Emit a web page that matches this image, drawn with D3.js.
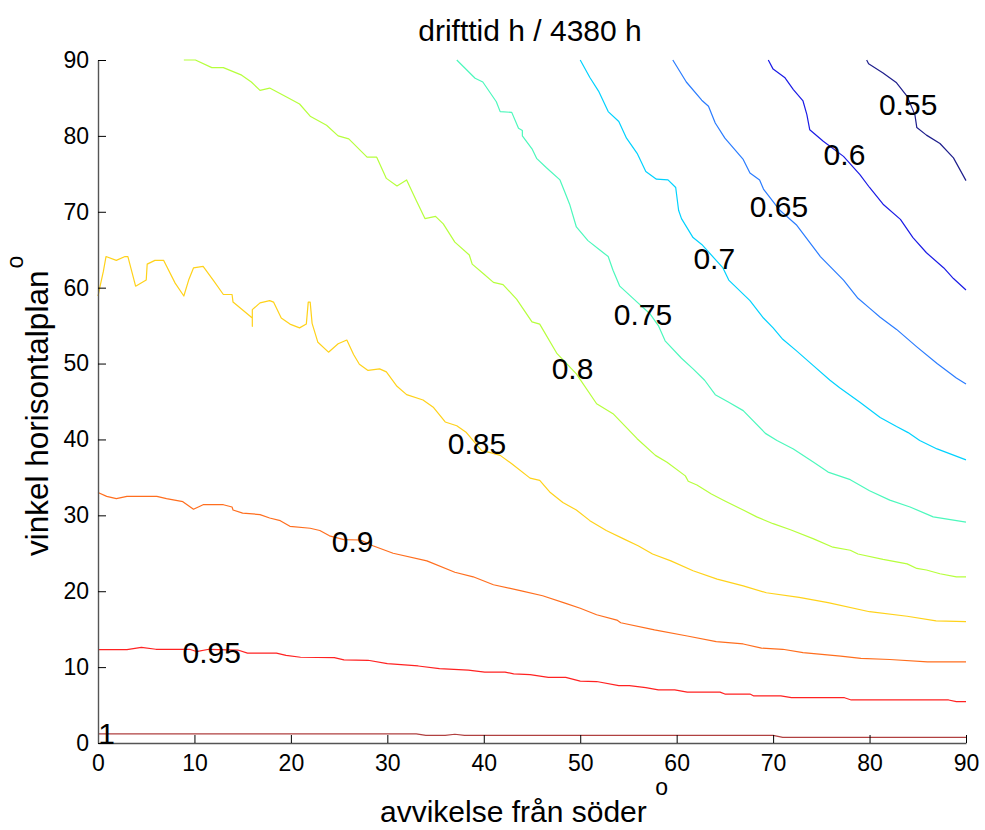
<!DOCTYPE html>
<html>
<head>
<meta charset="utf-8">
<script src="https://cdn.jsdelivr.net/npm/d3@7"></script>
<style>
  body { margin: 0; background: #fff; }
  svg { display: block; font-family: "Liberation Sans", Arial, Helvetica, sans-serif; }
</style>
</head>
<body>
<svg id="chart" width="985" height="830"></svg>
<script>
// ---- data (x = avvikelse från söder [deg], y = vinkel horisontalplan [deg]) ----
const levels = [0.55, 0.6, 0.65, 0.7, 0.75, 0.8, 0.85, 0.9, 0.95, 1.0];
const levelLabels = ["0.55", "0.6", "0.65", "0.7", "0.75", "0.8", "0.85", "0.9", "0.95", "1"];
const levelColors = ["#1e1e8c", "#1a1ae6", "#2a7cff", "#00d2ff", "#4cf8bc", "#b6ff3c", "#ffd21a", "#ff6e1e", "#ff2222", "#b04040"];

const line055 = [[79.7,90],[79.9,89.5],[81.4,88.3],[82.8,87],[83.9,85.2],[84.7,82.8],[84.9,81.1],[85.9,80.1],[87.3,79],[88.7,77.1],[90,74.1]];
const line060 = [[69.5,90],[70,88.8],[71.2,87.7],[72.1,86.1],[73.1,84.6],[73.5,82.8],[73.8,80.8],[75.2,79.3],[77.3,77.3],[79,74.9],[80,73.2],[81.4,71],[83.2,69],[84.5,66.6],[85.9,64.6],[87.7,62.6],[88.7,61.2],[90,59.7]];
const line065 = [[59.6,90],[61,87.1],[62.6,84.7],[63.3,83.9],[64,81.7],[65,79.7],[66.9,76.9],[67.6,75.1],[68.6,74.2],[69,73],[70.7,70.2],[72.4,68.3],[74.9,64.1],[77.3,61],[78.8,58.6],[80,57.3],[81.1,56.1],[82.8,54.5],[84.9,52.2],[87,50],[89,48.1],[90,47.3]];
const line070 = [[50,90],[51,87.7],[51.9,85.9],[52.9,83.2],[54,81.9],[54.8,79.7],[55.9,77.7],[56.8,75.3],[57.9,74.3],[59.1,74.2],[59.9,73.2],[60.2,70.2],[60.5,69.1],[61.7,66.6],[62.6,65.7],[64.8,62.6],[65.4,61],[67.6,58.3],[69,56],[70,54.7],[71,53.2],[72.4,51.7],[74.2,49.7],[75.9,47.8],[76.9,46.8],[79,44.9],[81.1,42.9],[82.8,41.7],[84,40.9],[85.2,39.85],[87,38.75],[90,37.3]];
const line075 = [[37.2,90],[39.1,87.6],[39.9,87.1],[41.3,84.5],[41.7,83.2],[42.9,83.1],[43.6,81],[44,80.7],[44,80],[45,78.3],[45.5,77],[46.5,75.8],[47.9,74.2],[48.4,72.6],[48.9,71],[49.6,68],[50.8,66.2],[52,65],[52.9,64.1],[53.4,62.3],[54.1,60.2],[55.9,58.1],[57.2,56.6],[58.1,55],[58.8,53],[60.5,50.7],[61.7,49.3],[62.9,47.8],[64,45.9],[65.4,44.9],[66.9,43.8],[69.2,40.8],[70.4,39.85],[72.1,38.75],[74.2,37],[75.7,35.7],[78,34.7],[80,33.25],[82.1,32],[84.2,31.1],[86.6,29.8],[90,29.1]];
const line080 = [[8.9,90],[10.1,90],[11.8,89],[13,89],[14.9,88],[15.9,87.1],[16.8,86],[17.8,86.3],[19.6,85.1],[20.9,84.2],[22,82.6],[23.7,81.4],[24.9,80],[26,79.6],[27.9,77.2],[28.9,77.2],[29.9,74.4],[31,73.4],[32,74.2],[33,71.5],[33.9,69.1],[35,69.4],[35.8,68.4],[37,66],[38.5,64.3],[38.8,63.1],[40,61.8],[41,60.7],[42,60.4],[43.4,58.5],[45,55.5],[45.8,55.2],[47.6,51.3],[49.6,48.65],[51.7,44.7],[53.4,43.4],[55.9,40.1],[57.8,37.9],[59,37],[60.9,35.2],[61.2,34.5],[62.1,34],[63.6,32.8],[65,31.9],[66.9,30.7],[68.3,29.8],[70,28.9],[71.8,28.1],[74.2,26.9],[76.2,25.8],[78,25.4],[78.8,24.9],[81.4,24.2],[83.9,23.6],[84.9,23],[85.9,22.8],[87.3,22.3],[89,21.9],[90,21.9]];
const line085 = [[0,58.9],[0.2,60.1],[0.55,62.1],[0.83,64.1],[1.9,63.6],[2.8,64.1],[3.1,64.1],[3.9,60.2],[5,61],[5.1,63.1],[5.9,63.6],[6.8,63.6],[8,60.6],[8.9,58.9],[9.4,61],[9.9,62.6],[10.9,62.8],[12,60.9],[13,59.1],[13.9,59.1],[14,58.1],[16,56],[16,54.9],[16,56],[16,57.1],[16.8,58],[17.8,58.3],[18.2,58.1],[19,56],[19.9,55.2],[20.9,54.7],[21.6,55.2],[21.8,58.1],[22,58.1],[22.2,55.3],[22.8,52.8],[23.9,51.5],[24.9,52.6],[25.8,53.1],[26.5,51.2],[27.1,49.9],[28,49.1],[29.2,49.3],[29.9,48.9],[31,47],[32,45.9],[33.7,45.2],[34.8,44.2],[36,42.3],[37.2,41.8],[38.2,40.9],[38.9,39.85],[39.8,38.5],[40.6,38.3],[41.7,37.9],[42.9,36.8],[44.8,34.9],[45.8,34.6],[46.9,33],[48.2,31.7],[49.6,30.7],[51,29.3],[52.7,28],[54.5,26.9],[56,26],[57.5,24.9],[59.4,24],[61.7,22.7],[64.2,21.6],[66.9,20.7],[69.3,19.8],[72.7,19.2],[75.7,18.5],[80,17.3],[83.9,16.7],[86.9,16.1],[90,16.0]];
const line090 = [[0,33],[0.9,32.5],[1.9,32.2],[3,32.5],[6.1,32.5],[7.1,32.2],[8.8,31.8],[9.9,30.8],[10.9,31.4],[13,31.4],[13.9,31.1],[14,30.7],[15,30.3],[16.8,30.1],[17.8,29.65],[18.9,29.3],[19.9,28.55],[22,28.3],[23,28],[24,27.3],[25.5,26.8],[27.2,26.75],[28.5,26],[30.6,25],[34.1,24],[37,22.5],[38.9,21.9],[41,20.85],[43.9,20.05],[46.1,19.4],[48.5,18.4],[50,17.75],[51.7,16.9],[53.8,16.2],[54.2,15.85],[57.7,14.9],[61.1,14.1],[64.1,13.35],[66.9,13.05],[68.8,12.5],[71,12.35],[73.1,11.9],[77,11.45],[79.1,11.15],[82.1,11.0],[86,10.7],[90,10.7]];
const line095 = [[0,12.3],[3,12.3],[4.5,12.6],[6,12.35],[9.5,12.35],[10.2,12.05],[11.5,12.35],[14.5,12.25],[15.5,11.85],[18.5,11.85],[19.5,11.55],[21,11.3],[24.5,11.25],[25.5,10.95],[28,10.9],[30,10.45],[33.2,10.15],[35.4,9.8],[38.4,9.6],[40.1,9.35],[42.2,9.35],[43.1,9.1],[44.8,9.0],[46.7,8.65],[48.5,8.65],[50,8.15],[51.7,8.1],[54,7.55],[55.1,7.55],[56.8,7.3],[58.1,7.0],[59.8,7.0],[61.1,6.7],[64.5,6.7],[65,6.45],[67.6,6.45],[68,6.2],[70.8,6.2],[71.9,5.97],[77.4,5.97],[78.1,5.67],[88.2,5.67],[89,5.45],[90,5.45]];
const line100 = [[0,1.2],[33,1.2],[34,1.0],[36,1.0],[37,1.15],[38,1.0],[70,1.0],[71,0.75],[90,0.75]];

const contourLines = [line055, line060, line065, line070, line075, line080, line085, line090, line095, line100];

// label anchor positions (data units)
const labelX = [84.0, 77.4, 70.6, 63.9, 56.5, 49.2, 39.3, 26.4, 11.8, 0.9];
const labelY = [84.1, 77.6, 70.7, 63.9, 56.5, 49.4, 39.5, 26.5, 11.9, 1.3];

const xTicks = [0, 10, 20, 30, 40, 50, 60, 70, 80, 90];
const yTicks = [0, 10, 20, 30, 40, 50, 60, 70, 80, 90];

const titleText = "drifttid h / 4380 h";
const xLabelText = "avvikelse från söder";
const yLabelText = "vinkel horisontalplan";
const degreeMark = "o";

// ---- drawing ----
const svg = d3.select("#chart");
const x = d3.scaleLinear().domain([0, 90]).range([98, 966]);
const y = d3.scaleLinear().domain([0, 90]).range([743, 60]);

const line = d3.line().x(d => x(d[0])).y(d => y(d[1]));

svg.append("g").selectAll("path")
  .data(contourLines)
  .join("path")
  .attr("d", d => line(d))
  .attr("fill", "none")
  .attr("stroke", (d, i) => levelColors[i])
  .attr("stroke-width", 1.2)
  .attr("stroke-linejoin", "round");

// axes
const xAxis = d3.axisBottom(x).tickValues(xTicks).tickSizeInner(-8).tickSizeOuter(0).tickPadding(12);
const yAxis = d3.axisLeft(y).tickValues(yTicks).tickSizeInner(-8).tickSizeOuter(0).tickPadding(9);

const gx = svg.append("g").attr("transform", `translate(0,${y(0)})`).call(xAxis);
const gy = svg.append("g").attr("transform", `translate(${x(0)},0)`).call(yAxis);

[gx, gy].forEach(g => {
  g.select(".domain").attr("stroke", "#555").attr("stroke-width", 1.4);
  g.selectAll(".tick line").attr("stroke", "#000").attr("stroke-width", 1);
  g.selectAll(".tick text").attr("fill", "#000").attr("font-size", 23)
    .attr("font-family", "Liberation Sans, Arial, sans-serif");
});

// contour labels
svg.append("g").selectAll("text")
  .data(levelLabels)
  .join("text")
  .attr("x", (d, i) => x(labelX[i]))
  .attr("y", (d, i) => y(labelY[i]))
  .attr("text-anchor", "middle")
  .attr("dominant-baseline", "central")
  .attr("font-size", 30)
  .attr("fill", "#000")
  .text(d => d);

// title
svg.append("text")
  .attr("x", 530).attr("y", 41)
  .attr("text-anchor", "middle")
  .attr("font-size", 30)
  .attr("fill", "#000")
  .text(titleText);

// x label
const xl = svg.append("text")
  .attr("x", 380).attr("y", 822)
  .attr("font-size", 30)
  .attr("fill", "#000");
xl.append("tspan").text(xLabelText + " ");
xl.append("tspan").attr("dy", -27).attr("font-size", 23).text(degreeMark);

// y label
const yl = svg.append("text")
  .attr("transform", "translate(48,556) rotate(-90)")
  .attr("font-size", 31.5)
  .attr("fill", "#000");
yl.append("tspan").text(yLabelText);
yl.append("tspan").attr("dx", 2).attr("dy", -25).attr("font-size", 23).text(degreeMark);
</script>
</body>
</html>
